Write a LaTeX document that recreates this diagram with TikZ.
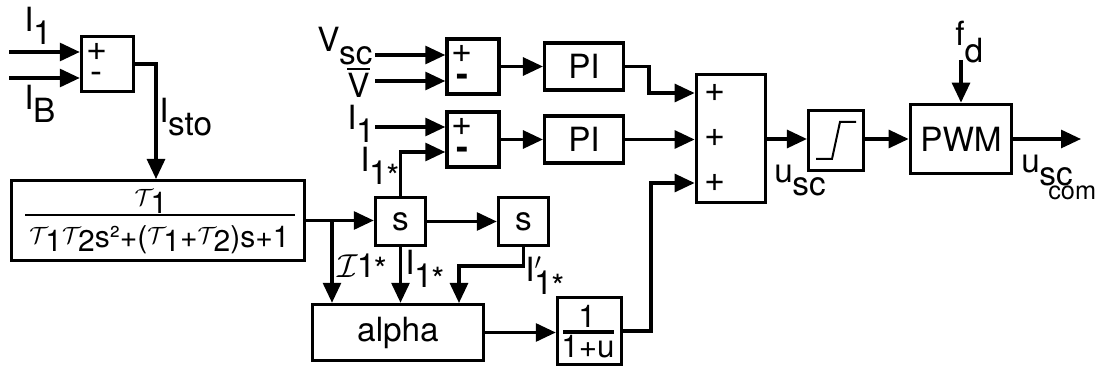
\documentclass[tikz,border=0pt]{standalone}
\usepackage{amsmath}
\usepackage{fontspec}
\setmainfont{TeX Gyre Heros}
\usetikzlibrary{arrows.meta}
\newcommand{\lowsub}[2]{#1\kern-0.01em\lower0.38em\hbox{#2}}
\newcommand{\lowstar}[1]{#1\kern-0.01em\lower0.38em\hbox{1\kern-0.04em\lower0.12em\hbox{*}}}
\newcommand{\taui}[1]{\raisebox{0.14em}{\scalebox{0.85}{$\mathcal{T}$}}\kern-0.09em\lower0.12em\hbox{#1}}

\begin{document}
\begin{tikzpicture}[
    x=0.75pt, y=-0.75pt,
    block/.style={draw, line width=2.6pt, inner sep=0pt, font=\fontsize{25}{27}\selectfont},
    sumbox/.style={block, minimum width=39pt, minimum height=41pt},
    sbox/.style={block, minimum width=37.5pt, minimum height=36pt},
    pibox/.style={block, minimum width=59pt, minimum height=35.5pt},
    arrow/.style={-{Triangle[length=15pt,width=13.5pt]}, line width=2.3pt},
    txt/.style={inner sep=0pt, anchor=base west, font=\fontsize{25}{27}\selectfont},
    fractxt/.style={inner sep=0pt, anchor=base, font=\fontsize{22.5}{24}\selectfont},
    sign/.style={inner sep=0pt, font=\fontsize{27}{29}\selectfont}
  ]
    \useasboundingbox (0,0) rectangle (1101,367);

    \node[sumbox] (sumA) at (107.5,64) {};
    \node[block, minimum width=220pt, minimum height=60pt] (tf) at (158,220.5) {};
    \node[sbox] (diffA) at (400.5,221.5) {s};
    \node[sbox] (diffB) at (523.5,221.5) {s};
    \node[block, minimum width=128pt, minimum height=42pt] (alpha) at (398,332.5) {alpha};
    \node[block, minimum width=48pt, minimum height=50pt] (inv) at (589.5,331) {};
    \node[sumbox] (sumB) at (473,66.5) {};
    \node[sumbox] (sumC) at (473,139.5) {};
    \node[pibox] (piA) at (584,66.5) {PI};
    \node[pibox] (piB) at (584,139.5) {PI};
    \node[block, minimum width=52pt, minimum height=96pt] (sumD) at (731,138.5) {};
    \node[block, minimum width=41pt, minimum height=45pt] (sat) at (836,140.5) {};
    \node[block, minimum width=76pt, minimum height=52pt] (pwm) at (961,139) {PWM};

    % signs
    \node[sign] (plusA) at (97,52) {+};
    \node[sign] (minusA) at (96,78) {-};
    \node[sign] (plusB) at (462,54) {+};
    \node[sign] (minusB) at (462,80) {\bfseries -};
    \node[sign] (plusC) at (462,127) {+};
    \node[sign] (minusC) at (462,153) {\bfseries -};
    \node[sign] (plusD) at (715,93) {+};
    \node[sign] (plusE) at (715,138) {+};
    \node[sign] (plusF) at (715,183) {+};

    % fractions
    \node[fractxt] (tfnum) at (151,210) {\taui{1}};
    \node[fractxt] (tfden) at (159.5,248) {\taui{1}\taui{2}s²+(\taui{1}+\taui{2})s+1};
    \coordinate (tfbarl) at (25,215);
    \coordinate (tfbarr) at (295,215);
    \draw[line width=1.5pt] (tfbarl) -- (tfbarr);
    \node[fractxt, font=\fontsize{23.5}{25}\selectfont] (invnum) at (587,328) {1};
    \node[fractxt, font=\fontsize{23.5}{25}\selectfont] (invden) at (588,358) {1+u};
    \coordinate (invbarl) at (563,332);
    \coordinate (invbarr) at (614,332);
    \draw[line width=2.3pt] (invbarl) -- (invbarr);

    % limiter curve
    \coordinate (satA) at (816,159);
    \coordinate (satB) at (832,159);
    \coordinate (satC) at (840,122);
    \coordinate (satD) at (856,122);
    \draw[line width=1.5pt] (satA) -- (satB) -- (satC) -- (satD);

    % labels
    \node[txt] (lbA) at (24,32) {\lowsub{I}{1}};
    \node[txt] (lbB) at (24,110) {\lowsub{I}{B}};
    \node[txt] (lbsto) at (159,123) {\lowsub{I}{sto}};
    \node[txt] (lbvsc) at (317,52) {\lowsub{V}{sc}};
    \node[txt] (lbv) at (347,98) {$\overline{\mbox{V}}$};
    \node[txt] (lbi) at (347,130) {\lowsub{I}{1}};
    \node[txt] (lbistar) at (360,172) {\lowstar{I}};
    \node[txt] (lbcal) at (337,278) {$\mathcal{I}$\kern-0.03em 1\kern-0.04em\lower0.12em\hbox{*}};
    \node[txt] (lbdiff) at (405,275) {\lowstar{I}};
    \node[txt] (lbddiff) at (525,282) {\lowstar{I\rlap{$'$}}};
    \node[txt] (lbusc) at (774,183) {\lowsub{u}{sc}};
    \node[txt] (lbuscc) at (1021,173) {\lowsub{u}{sc}};
    \node[inner sep=0pt, anchor=base west, font=\fontsize{19}{21}\selectfont] (lbcom) at (1048,200) {com};
    \node[txt] (lbfd) at (955,46) {f\lower0.5em\hbox{d}};

    % free ends
    \coordinate (inA) at (9,52);
    \coordinate (inB) at (9,78);
    \coordinate (inC) at (375,55);
    \coordinate (inD) at (375,81);
    \coordinate (inE) at (375,127);
    \coordinate (outF) at (1081,139);
    \coordinate (inF) at (961,60);
    \coordinate (branch) at (332,220.5);

    \draw[arrow] (inA) -- (inA -| sumA.west);
    \draw[arrow] (inB) -- (inB -| sumA.west);
    \draw[arrow] (sumA.east) -| (156,179);
    \draw[arrow] (inC) -- (inC -| sumB.west);
    \draw[arrow] (inD) -- (inD -| sumB.west);
    \draw[arrow] (inE) -- (inE -| sumC.west);
    \draw[arrow] (diffA.north) |- (sumC.west |- 0,152);
    \draw[arrow] (sumB.east) -- (piA.west);
    \draw[arrow] (sumC.east) -- (piB.west);
    \draw[arrow] (tf.east) -- (diffA.west |- tf.east);
    \draw[arrow] (branch) -- (branch |- alpha.north);
    \draw[arrow] (diffA.south) -- (diffA.south |- alpha.north);
    \draw[arrow] (diffA.east) -- (diffB.west);
    \draw[arrow] (diffB.south) -- (523.5,266) -- (459,266) -- (459,303);
    \draw[arrow] (alpha.east) -- (inv.west |- alpha.east);
    \draw[arrow] (inv.east) -- (651,331) -- (651,183) -- (sumD.west |- 0,183);
    \draw[arrow] (piA.east) -- (649,66.5) -- (649,93) -- (sumD.west |- 0,93);
    \draw[arrow] (piB.east) -- (sumD.west |- piB.east);
    \draw[arrow] (sumD.east |- 0,139) -- (sat.west |- 0,139);
    \draw[arrow] (sat.east |- 0,139) -- (pwm.west);
    \draw[arrow] (pwm.east) -- (outF);
    \draw[arrow] (inF) -- (pwm.north);
  \end{tikzpicture}
\end{document}
